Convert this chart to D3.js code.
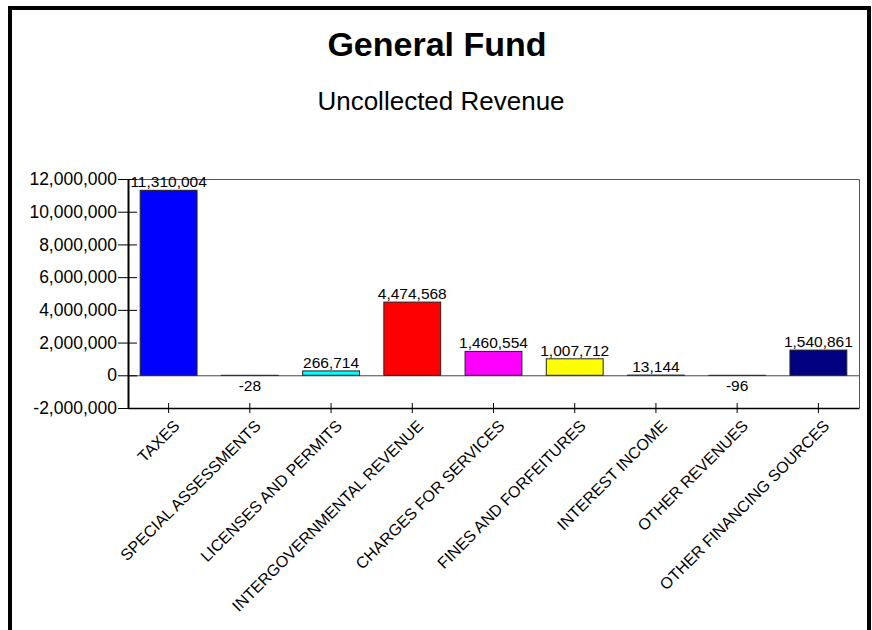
<!DOCTYPE html>
<meta charset="utf-8">
<style>
body { margin: 0; background: #fff; }
text { font-family: Arial, "Liberation Sans", sans-serif; fill: #000; }
</style>
<svg width="872" height="630"></svg>
<script src="https://d3js.org/d3.v7.min.js"></script>
<script>

var categories = ["TAXES", "SPECIAL ASSESSMENTS", "LICENSES AND PERMITS",
  "INTERGOVERNMENTAL REVENUE", "CHARGES FOR SERVICES", "FINES AND FORFEITURES",
  "INTEREST INCOME", "OTHER REVENUES", "OTHER FINANCING SOURCES"];
var values = [11310004, -28, 266714, 4474568, 1460554, 1007712, 13144, -96, 1540861];
var colors = ["#0000ff", "#00ffff", "#00ffff", "#ff0000", "#ff00ff", "#ffff00",
  "#00ffff", "#00ffff", "#000080"];
var yTicks = [-2000000, 0, 2000000, 4000000, 6000000, 8000000, 10000000, 12000000];

var svg = d3.select("svg");

var plotLeft = 128, plotRight = 859, plotTop = 179, plotBottom = 408;

// outer frame (no bottom edge, it runs off the page)
svg.append("path")
    .attr("d", "M10,640 V8 H869 V640")
    .attr("fill", "none")
    .attr("stroke", "#000")
    .attr("stroke-width", 4);

svg.append("text")
    .attr("x", 437).attr("y", 56)
    .attr("text-anchor", "middle")
    .style("font-size", "34px")
    .style("font-weight", "bold")
    .text("General Fund");

svg.append("text")
    .attr("x", 441).attr("y", 110)
    .attr("text-anchor", "middle")
    .style("font-size", "26px")
    .text("Uncollected Revenue");

var x = d3.scaleBand()
    .domain(categories)
    .range([plotLeft, plotRight])
    .padding(0);

var y = d3.scaleLinear()
    .domain([-2000000, 12000000])
    .range([plotBottom, plotTop]);

// plain hyphen for negatives, like the original
var fmt = d3.formatLocale({decimal: ".", thousands: ",", grouping: [3], currency: ["$", ""], minus: "-"}).format(",");

/************* PLOT FRAME ***************/
svg.append("path")
    .attr("d", "M" + plotLeft + "," + (plotTop + 0.5) + " H" + (plotRight + 0.5) + " V" + plotBottom)
    .attr("fill", "none")
    .attr("stroke", "#555")
    .attr("stroke-width", 1);

svg.append("line")
    .attr("x1", plotLeft).attr("x2", plotRight)
    .attr("y1", y(0) + 0.5).attr("y2", y(0) + 0.5)
    .attr("stroke", "#444");

/************* BARS ***************/
var bw = x.bandwidth() * 0.7;

svg.append("g")
  .selectAll("rect")
  .data(values)
  .enter().append("rect")
    .attr("x", function(d, i) { return x(categories[i]) + (x.bandwidth() - bw) / 2; })
    .attr("y", function(d) { return y(Math.max(0, d)); })
    .attr("width", bw)
    .attr("height", function(d) { return Math.abs(y(d) - y(0)); })
    .attr("fill", function(d, i) { return colors[i]; })
    .attr("stroke", "#222")
    .attr("stroke-width", 1);

svg.append("g")
  .selectAll("text")
  .data(values)
  .enter().append("text")
    .attr("x", function(d, i) { return x(categories[i]) + x.bandwidth() / 2; })
    .attr("y", function(d) { return d >= 0 ? y(d) - 3 : y(0) + 16; })
    .attr("text-anchor", "middle")
    .style("font-size", "15.5px")
    .text(function(d) { return fmt(d); });

/************* AXES ***************/
var yAxis = svg.append("g")
    .attr("transform", "translate(" + plotLeft + ",0)")
    .call(d3.axisLeft(y).tickValues(yTicks).tickFormat(fmt).tickSizeInner(10).tickSizeOuter(0).tickPadding(1));
yAxis.select(".domain").attr("stroke", "#000").attr("stroke-width", 2);
yAxis.selectAll(".tick line").clone().attr("x2", 9);
yAxis.selectAll(".tick text").style("font-size", "17.5px").attr("fill", "#000");

var xAxis = svg.append("g")
    .attr("transform", "translate(0," + plotBottom + ")")
    .call(d3.axisBottom(x).tickSizeInner(5).tickSizeOuter(0).tickFormat(""));
xAxis.select(".domain").attr("stroke", "#000").attr("stroke-width", 1.5);
xAxis.selectAll(".tick line").clone().attr("y2", -5);

svg.append("g")
  .selectAll("text")
  .data(categories)
  .enter().append("text")
    .attr("transform", function(d) {
      return "translate(" + (x(d) + x.bandwidth() / 2 + 12) + "," + 427 + ") rotate(-45)";
    })
    .attr("text-anchor", "end")
    .style("font-size", "16px")
    .text(function(d) { return d; });

</script>
